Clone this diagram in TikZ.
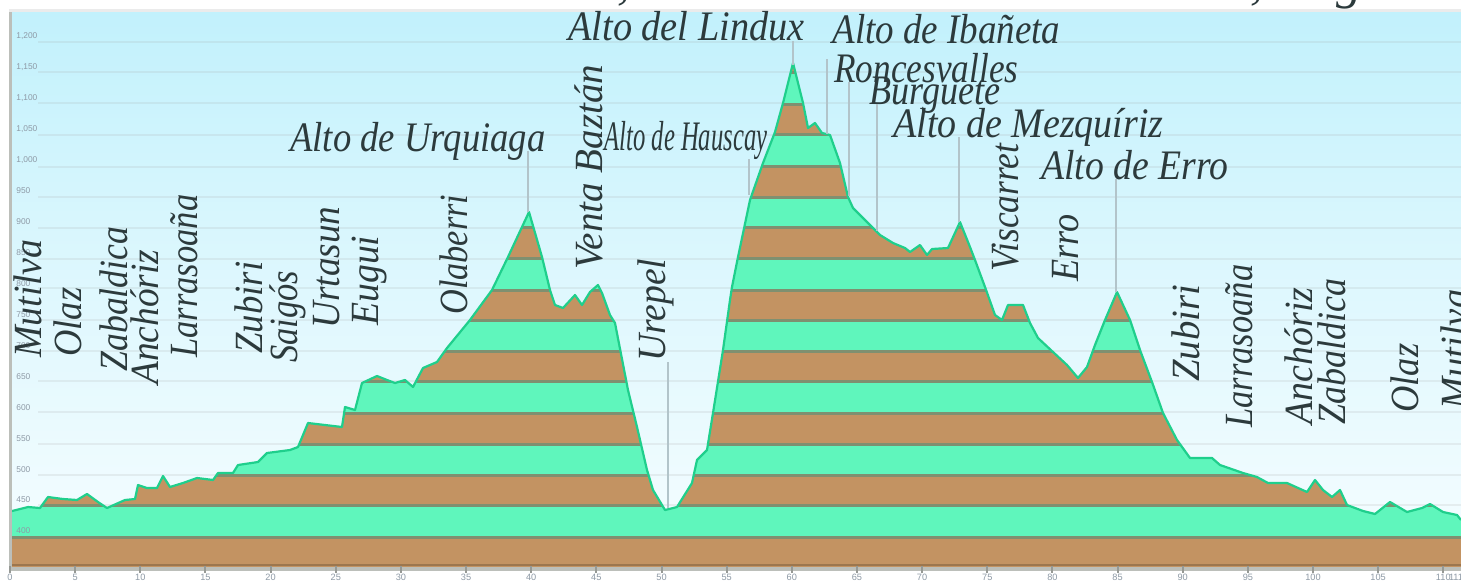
\documentclass[tikz,border=0pt]{standalone}
\usepackage{fontspec}
\usepackage{graphicx}
\setmainfont{Liberation Serif}
\newfontfamily\axisfont{Liberation Sans}
\newlength\pxu \setlength\pxu{0.5pt}
\newcommand\fitw[2]{\resizebox*{#1\pxu}{\totalheight}{#2}}
\definecolor{skytop}{HTML}{C2F1FC}
\definecolor{skylow}{HTML}{F6FDFF}
\definecolor{bandgreen}{HTML}{5FF6BC}
\definecolor{bandbrown}{HTML}{C39362}
\definecolor{bandline}{HTML}{7F9070}
\definecolor{profline}{HTML}{1FCF8C}
\definecolor{leader}{HTML}{B2C4CA}
\definecolor{axisgrey}{HTML}{BCBFBA}
\definecolor{labelink}{HTML}{2C3A3C}
\definecolor{ticktext}{HTML}{8E9AA6}
\tikzset{
  hlabel/.style={inner sep=0pt,anchor=base west,text=labelink,font=\fontsize{21}{21}\selectfont\itshape},
  vlabel/.style={inner sep=0pt,anchor=base west,rotate=90,text=labelink,font=\fontsize{20}{20}\selectfont\itshape},
  leaderline/.style={draw=leader,line width=1.4pt},
  ylab/.style={inner sep=0pt,anchor=west,text=ticktext,font=\axisfont\fontsize{4.2}{4.2}\selectfont},
  xlab/.style={inner sep=0pt,text=ticktext,font=\axisfont\fontsize{4.6}{4.6}\selectfont},
}
\def\prof{(12,511) -- (28,507) -- (40,508) -- (48,497) -- (63,499) -- (77,500) -- (87,494) -- (98,502) -- (107,508) -- (125,500) -- (135,499) -- (138,485) -- (147,488) -- (157,488) -- (163,476) -- (170,487) -- (183,483) -- (197,478) -- (213,480) -- (218,473) -- (233,473) -- (238,465) -- (258,462) -- (267,453) -- (290,450) -- (298,447) -- (308,423) -- (342,427) -- (345,407) -- (355,410) -- (362,383) -- (377,376) -- (387,380) -- (395,383) -- (405,380) -- (413,387) -- (423,368) -- (437,362) -- (447,348) -- (470,320) -- (492,290) -- (508,257) -- (529,212) -- (542,257) -- (550,290) -- (555,305) -- (563,308) -- (575,295) -- (582,305) -- (590,292) -- (598,285) -- (602,293) -- (610,315) -- (615,323) -- (628,390) -- (637,427) -- (647,470) -- (653,490) -- (665,510) -- (677,507) -- (692,483) -- (697,460) -- (707,450) -- (713,413) -- (723,350) -- (730,300) -- (732,287) -- (738,257) -- (750,200) -- (763,163) -- (775,132) -- (783,103) -- (793,63) -- (803,103) -- (808,128) -- (815,123) -- (822,133) -- (830,135) -- (840,163) -- (848,197) -- (853,208) -- (872,227) -- (880,235) -- (893,243) -- (905,248) -- (910,252) -- (920,245) -- (927,255) -- (932,249) -- (948,248) -- (960,222) -- (970,247) -- (975,260) -- (985,287) -- (995,315) -- (1002,320) -- (1008,305) -- (1023,305) -- (1030,323) -- (1038,338) -- (1053,352) -- (1067,365) -- (1078,378) -- (1087,367) -- (1095,345) -- (1105,320) -- (1117,292) -- (1130,320) -- (1140,350) -- (1152,382) -- (1163,413) -- (1177,440) -- (1190,458) -- (1212,458) -- (1220,465) -- (1243,473) -- (1257,477) -- (1268,483) -- (1287,483) -- (1307,492) -- (1315,480) -- (1323,490) -- (1332,497) -- (1340,490) -- (1347,505) -- (1363,511) -- (1375,514) -- (1390,502) -- (1407,512) -- (1422,508) -- (1430,504) -- (1443,512) -- (1457,515) -- (1461,520)}
\begin{document}
\begin{tikzpicture}[x=0.5pt,y=-0.5pt]
\useasboundingbox (0,0) rectangle (1461,580);
\clip (0,0) rectangle (1461,580);
\fill[white] (0,0) rectangle (1461,580);
% title, cut off by the top edge
\node[inner sep=0pt,anchor=base,text=labelink,font=\fontsize{25}{25}\selectfont\itshape] (title) at (728,-2)
  {\fitw{1335}{Desnivel acumulado: 1105,7 mts. --- Distancia total: 100,2 Kgs.}};
% sky
\fill[black!8] (9,9) rectangle (1461,12);
\shade[top color=skytop,bottom color=skylow,middle color=skytop!45!skylow] (12,12) rectangle (1461,567);
% sky grid
\foreach \gy in {42,72,103,135,167,197,228,259,288,320,351,381,412,444,475,505,536}
  \draw[line width=1.1pt,black!35,opacity=.17] (38,\gy) -- (1461,\gy);
% bands
\begin{scope}
  \clip \prof -- (1461,567) -- (12,567) -- cycle;
  \fill[bandgreen] (12,30) rectangle (1461,567);
  \foreach \ya/\yb in {537/567,475/505,413/444,351/381,290/320,227/258,166/197,104/134,41/72}
    \fill[bandbrown] (12,\ya) rectangle (1461,\yb);
  \foreach \gy in {72,104,134,166,197,227,258,290,320,351,381,413,444,475,505,537}
    \draw[line width=1.5pt,bandline] (12,\gy) -- (1461,\gy);
  \draw[line width=1.2pt,bandbrown!80!black] (12,565) -- (1461,565);
\end{scope}
\draw[profline,line width=1.1pt,line join=round] \prof;
% axes
\fill[axisgrey] (9,12) rectangle (12,567);
\fill[axisgrey] (9,567) rectangle (1461,570.5);
\foreach \n [evaluate=\n as \tx using 10+65.15*\n,evaluate=\n as \km using int(5*\n)] in {0,...,22}{
  \draw[axisgrey!80!black,line width=1pt] (\tx,566) -- (\tx,573);
  \node[xlab] (xl\n) at (\tx,577) {\km};
}
\node[xlab] (xlend) at (1456,577) {111};
\foreach \ly/\lt in {36/{1,200},67/{1,150},98/{1,100},129/{1,050},160/{1,000},191/950,222/900,253/850,284/800,315/750,346/700,377/650,408/600,439/550,470/500,500/450,531/400}
  \node[ylab] at (16,\ly) {\lt};
% horizontal labels
\node[hlabel] (urq) at (290,151) {\fitw{255}{Alto de Urquiaga}};
\node[hlabel] (lin) at (568,40) {\fitw{236}{Alto del Lindux}};
\node[hlabel] (iba) at (832,43) {\fitw{228}{Alto de Ibañeta}};
\node[hlabel] (ron) at (834,82) {\fitw{184}{Roncesvalles}};
\node[hlabel] (bur) at (869,104) {\fitw{131}{Burguete}};
\node[hlabel] (mez) at (893,137) {\fitw{270}{Alto de Mezquíriz}};
\node[hlabel] (hau) at (604,150) {\fitw{163}{Alto de Hauscay}};
\node[hlabel] (err) at (1041,179) {\fitw{187}{Alto de Erro}};
% rotated labels
\node[vlabel] (v1) at (41,358) {\fitw{118}{Mutilva}};
\node[vlabel] (v2) at (81,357) {\fitw{69}{Olaz}};
\node[vlabel] (v3) at (127,372) {\fitw{145}{Zabaldica}};
\node[vlabel] (v4) at (158,385) {\fitw{135}{Anchóriz}};
\node[vlabel] (v5) at (197,358) {\fitw{163}{Larrasoaña}};
\node[vlabel] (v6) at (262,354) {\fitw{92}{Zubiri}};
\node[vlabel] (v7) at (297,363) {\fitw{92}{Saigós}};
\node[vlabel] (v8) at (339,329) {\fitw{122}{Urtasun}};
\node[vlabel] (v9) at (378,326) {\fitw{90}{Eugui}};
\node[vlabel] (v10) at (467,315) {\fitw{120}{Olaberri}};
\node[vlabel] (v11) at (602,270) {\fitw{205}{Venta Baztán}};
\node[vlabel] (v12) at (665,362) {\fitw{103}{Urepel}};
\node[vlabel] (v13) at (1018,272) {\fitw{128}{Viscarret}};
\node[vlabel] (v14) at (1078,282) {\fitw{67}{Erro}};
\node[vlabel] (v15) at (1199,382) {\fitw{97}{Zubiri}};
\node[vlabel] (v16) at (1252,428) {\fitw{163}{Larrasoaña}};
\node[vlabel] (v17) at (1312,425) {\fitw{137}{Anchóriz}};
\node[vlabel] (v18) at (1345,425) {\fitw{146}{Zabaldica}};
\node[vlabel] (v19) at (1418,413) {\fitw{69}{Olaz}};
\node[vlabel] (v20) at (1468,410) {\fitw{120}{Mutilva}};
% leaders: from each label down to the profile
\coordinate (pUrq) at (528,212);
\coordinate (pUre) at (668,508);
\coordinate (pHau) at (749,195);
\coordinate (pLin) at (793,65);
\coordinate (pIba) at (827,134);
\coordinate (pIbaTop) at (827,59);
\coordinate (pRon) at (849,196);
\coordinate (pBur) at (877,231);
\coordinate (pMez) at (959,222);
\coordinate (pErr) at (1116,292);
\draw[leaderline] (pUrq |- urq.base) -- (pUrq);
\draw[leaderline] (pHau |- hau.south) -- (pHau);
\draw[leaderline] (pLin |- lin.south) -- (pLin);
\draw[leaderline] (pIbaTop) -- (pIba);
\draw[leaderline] (pRon |- ron.base) -- (pRon);
\draw[leaderline] (pBur |- bur.base) -- (pBur);
\draw[leaderline] (pMez |- mez.base) -- (pMez);
\draw[leaderline] (pErr |- err.base) -- (pErr);
\draw[leaderline] (pUre |- v12.west) -- (pUre);
\end{tikzpicture}
\end{document}
